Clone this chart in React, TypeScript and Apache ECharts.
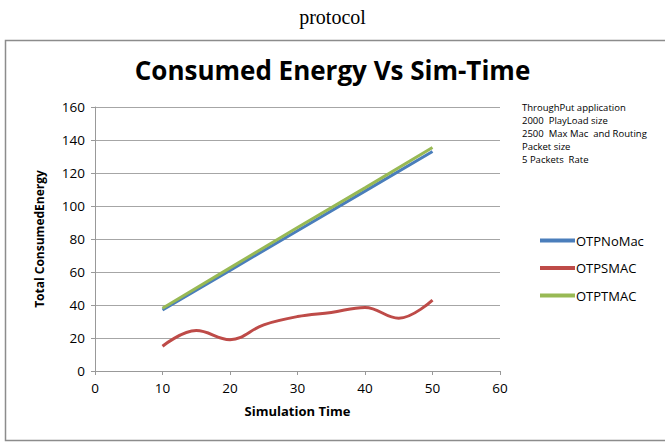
import React, { useEffect, useRef } from "react";
import * as echarts from "echarts";

const xValues = [10, 15, 20, 25, 30, 35, 40, 45, 50];
const otpNoMac = [37, null, 61, null, 85, null, 109, null, 133];
const otpSMac = [15, 24.5, 19, 28, 33, 35.5, 38.5, 32, 43];
const otpTMac = [38, null, 62.5, null, 87, null, 111, null, 135.5];
const seriesNames = ["OTPNoMac", "OTPSMAC", "OTPTMAC"];
const seriesColors = ["#4A7EBB", "#BE4B48", "#98B954"];
const noteLines = [
  "ThroughPut application",
  "2000  PlayLoad size",
  "2500  Max Mac  and Routing",
  "Packet size",
  "5 Packets  Rate",
];

const pairs = (ys: (number | null)[]) =>
  xValues.map((x, i) => [x, ys[i]]).filter((p) => p[1] !== null);

export default function App() {
  const ref = useRef<HTMLDivElement>(null);
  useEffect(() => {
    const chart = echarts.init(ref.current!, null, { renderer: "svg" });
    const font = "Open Sans, Liberation Sans, sans-serif";
    chart.setOption({
      animation: false,
      backgroundColor: "#fff",
      textStyle: { fontFamily: font },
      title: {
        text: "Consumed Energy Vs Sim-Time",
        left: "center",
        top: 52,
        textStyle: { fontSize: 26, fontWeight: "bold", color: "#000", fontFamily: font },
      },
      graphic: [
        {
          type: "text",
          left: "center",
          top: 7,
          style: { text: "protocol", font: "20px 'Liberation Serif', serif", fill: "#000" },
        },
        {
          type: "rect",
          shape: { x: 5.5, y: 40.5, width: 680, height: 400 },
          style: { fill: "none", stroke: "#8c8c8c", lineWidth: 1.5 },
          z: -1,
        },
        {
          type: "text",
          left: 522,
          top: 101,
          style: {
            text: noteLines.join("\n"),
            font: "9.5px " + font,
            lineHeight: 13,
            fill: "#000",
          },
        },
      ],
      legend: {
        orient: "vertical",
        left: 535,
        top: 229,
        itemGap: 14.5,
        itemWidth: 35,
        itemHeight: 14,
        icon: "path://M0,5 L35,5 L35,9 L0,9 Z",
        textStyle: { fontSize: 13, color: "#000", fontFamily: font, padding: [0, 0, 0, -4] },
        data: seriesNames,
      },
      grid: { left: 95, right: 165, top: 107, bottom: 73 },
      xAxis: {
        type: "value",
        min: 0,
        max: 60,
        interval: 10,
        name: "Simulation Time",
        nameLocation: "middle",
        nameGap: 33,
        nameTextStyle: { fontSize: 13, fontWeight: "bold", color: "#000" },
        axisLine: { lineStyle: { color: "#999" } },
        axisTick: { show: true, inside: false, length: 4, lineStyle: { color: "#999" } },
        axisLabel: { fontSize: 13.5, color: "#000", margin: 10 },
        splitLine: { show: false },
      },
      yAxis: {
        type: "value",
        min: 0,
        max: 160,
        interval: 20,
        name: "Total ConsumedEnergy",
        nameLocation: "middle",
        nameGap: 50,
        nameTextStyle: { fontSize: 12, fontWeight: "bold", color: "#000" },
        axisLine: { show: true, lineStyle: { color: "#999" } },
        axisTick: { show: true, length: 4, lineStyle: { color: "#999" } },
        axisLabel: { fontSize: 13.5, color: "#000", margin: 10 },
        splitLine: { lineStyle: { color: "#a6a6a6" } },
      },
      series: [
        {
          name: seriesNames[0],
          type: "line",
          data: pairs(otpNoMac),
          showSymbol: false,
          lineStyle: { width: 3, color: seriesColors[0] },
          itemStyle: { color: seriesColors[0] },
        },
        {
          name: seriesNames[1],
          type: "line",
          data: pairs(otpSMac),
          smooth: 0.4,
          showSymbol: false,
          lineStyle: { width: 3, color: seriesColors[1] },
          itemStyle: { color: seriesColors[1] },
        },
        {
          name: seriesNames[2],
          type: "line",
          data: pairs(otpTMac),
          showSymbol: false,
          lineStyle: { width: 3, color: seriesColors[2] },
          itemStyle: { color: seriesColors[2] },
        },
      ],
    });
    return () => chart.dispose();
  }, []);
  return (
    <div
      ref={ref}
      style={{ position: "fixed", left: 0, top: 0, width: 665, height: 444 }}
    />
  );
}
